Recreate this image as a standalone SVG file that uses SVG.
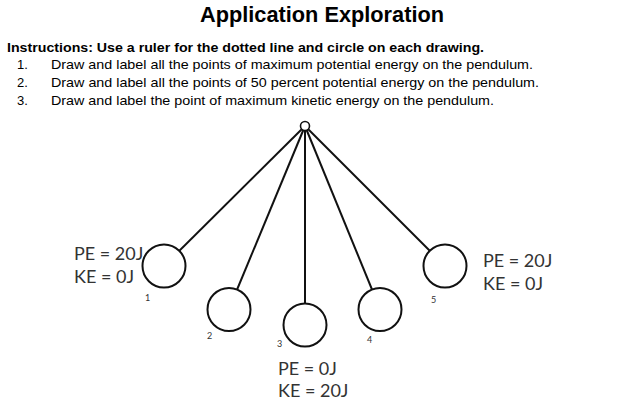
<svg xmlns="http://www.w3.org/2000/svg" width="632" height="406" viewBox="0 0 632 406">
<style>
.title{font-family:"Liberation Sans",Arial,sans-serif;font-weight:bold;font-size:21.8px;fill:#000}
.instr{font-family:"Liberation Sans",Arial,sans-serif;font-weight:bold;font-size:13px;fill:#000}
.item{font-family:"Liberation Sans",Arial,sans-serif;font-size:13px;fill:#000}
.lbl{font-family:Lato,"Open Sans",sans-serif;font-size:18px;fill:#333}
.num{font-family:Lato,"Open Sans",sans-serif;font-size:9px;fill:#333}
.bob{fill:#fff;stroke:#111;stroke-width:2}
.rod{stroke:#111;stroke-width:2;fill:none}
</style>
<rect width="632" height="406" fill="#fff"/>
<text class="title" x="322" y="22" text-anchor="middle" textLength="244" lengthAdjust="spacingAndGlyphs">Application Exploration</text>
<text class="instr" x="7" y="52" textLength="477" lengthAdjust="spacingAndGlyphs">Instructions: Use a ruler for the dotted line and circle on each drawing.</text>
<g class="item">
<text x="17" y="69">1.</text><text x="51" y="69" textLength="482" lengthAdjust="spacingAndGlyphs">Draw and label all the points of maximum potential energy on the pendulum.</text>
<text x="17" y="87">2.</text><text x="51" y="87" textLength="488" lengthAdjust="spacingAndGlyphs">Draw and label all the points of 50 percent potential energy on the pendulum.</text>
<text x="17" y="105">3.</text><text x="51" y="105" textLength="443" lengthAdjust="spacingAndGlyphs">Draw and label the point of maximum kinetic energy on the pendulum.</text>
</g>
<g id="connectors">
<line class="rod" x1="305" y1="126" x2="164" y2="266"/>
<line class="rod" x1="305" y1="126" x2="229" y2="309"/>
<line class="rod" x1="305" y1="126" x2="305" y2="325"/>
<line class="rod" x1="305" y1="126" x2="380" y2="309"/>
<line class="rod" x1="305" y1="126" x2="445" y2="266"/>
</g>
<g id="pivot"><circle cx="305" cy="126" r="4.5" fill="#fff" stroke="#111" stroke-width="1.6"/></g>
<g id="bob1"><circle class="bob" cx="164" cy="266" r="21.5"/><text class="num" x="145" y="301">1</text></g>
<g id="bob2"><circle class="bob" cx="229" cy="309.5" r="21.5"/><text class="num" x="207" y="339">2</text></g>
<g id="bob3"><circle class="bob" cx="305" cy="325" r="21.5"/><text class="num" x="277" y="347">3</text></g>
<g id="bob4"><circle class="bob" cx="380" cy="309.5" r="21.5"/><text class="num" x="367" y="343">4</text></g>
<g id="bob5"><circle class="bob" cx="445" cy="266" r="21.5"/><text class="num" x="431" y="303">5</text></g>
<g id="label-left"><text class="lbl" x="74" y="260">PE = 20J</text><text class="lbl" x="74" y="283">KE = 0J</text></g>
<g id="label-right"><text class="lbl" x="483" y="267">PE = 20J</text><text class="lbl" x="483" y="290">KE = 0J</text></g>
<g id="label-bottom"><text class="lbl" x="278" y="375">PE = 0J</text><text class="lbl" x="278" y="397">KE = 20J</text></g>
</svg>
